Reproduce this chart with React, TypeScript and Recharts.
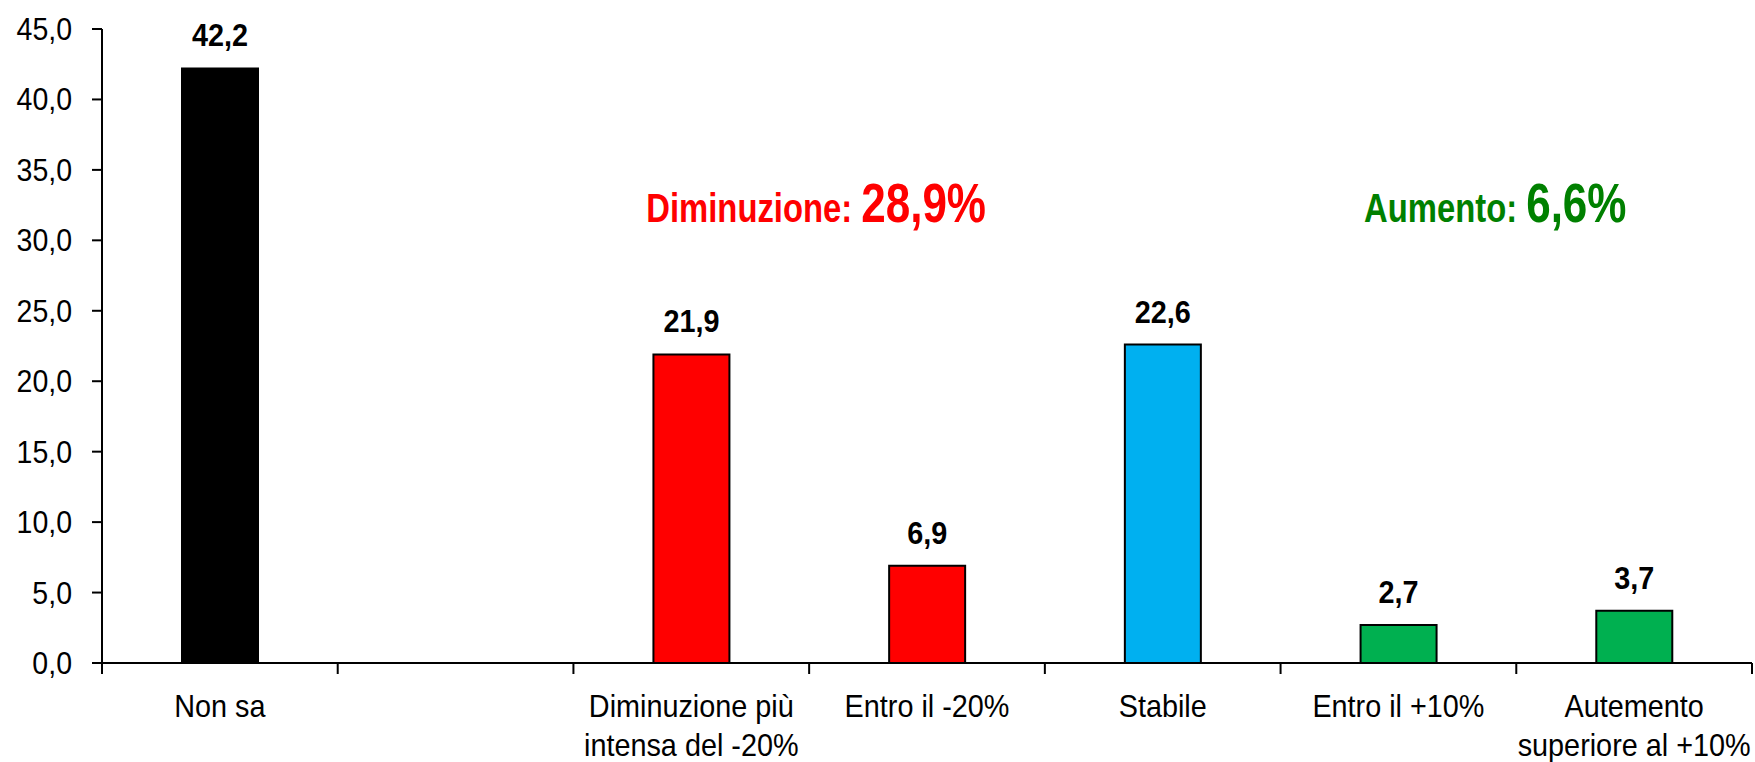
import React from 'react';
import { BarChart, Bar, XAxis, YAxis, Cell, LabelList, ReferenceArea } from 'recharts';

const categories = [
  'Non sa',
  '',
  'Diminuzione più\nintensa del -20%',
  'Entro il -20%',
  'Stabile',
  'Entro il +10%',
  'Autemento\nsuperiore al +10%',
];
const values: (number | null)[] = [42.2, null, 21.9, 6.9, 22.6, 2.7, 3.7];
const barColors = ['#000000', '#ffffff', '#ff0000', '#ff0000', '#00b0f0', '#00b050', '#00b050'];
const yTicks = [0, 5, 10, 15, 20, 25, 30, 35, 40, 45];

const data = categories.map((name, i) => ({ name, value: values[i] }));

// no Arial Narrow here, so text is squeezed horizontally to mimic it
const FONT = '"Liberation Sans", Arial, sans-serif';

const fmt = (v: any) => (v == null || v === '' ? '' : Number(v).toFixed(1).replace('.', ','));

function CategoryTick(props: any) {
  const { x, y, payload, index, visibleTicksCount } = props;
  const half = payload && payload.offset ? payload.offset : 1650 / categories.length / 2;
  const lines = String(payload.value).split('\n');
  const last = index === (visibleTicksCount ?? categories.length) - 1;
  return (
    <g>
      <line x1={x - half} y1={y} x2={x - half} y2={y + 11} stroke="#000" strokeWidth={2} />
      {last && <line x1={x + half} y1={y} x2={x + half} y2={y + 11} stroke="#000" strokeWidth={2} />}
      <text
        transform={`translate(${x},${y + 54}) scale(0.9,1)`}
        textAnchor="middle"
        fill="#000"
        fontSize={32}
        fontFamily={FONT}
      >
        {lines.map((l, i) => (
          <tspan key={i} x={0} dy={i === 0 ? 0 : 39}>
            {l}
          </tspan>
        ))}
      </text>
    </g>
  );
}

function ValueTick(props: any) {
  const { x, y, payload } = props;
  return (
    <text
      transform={`translate(${x},${y + 11}) scale(0.92,1)`}
      textAnchor="end"
      fill="#000"
      fontSize={31}
      fontFamily={FONT}
    >
      {fmt(payload.value)}
    </text>
  );
}

function BarValue(props: any) {
  const { x, y, width, value } = props;
  if (value == null) return null;
  return (
    <text
      transform={`translate(${x + width / 2},${y - 22}) scale(0.9,1)`}
      textAnchor="middle"
      fill="#000"
      fontSize={32}
      fontWeight="bold"
      fontFamily={FONT}
    >
      {fmt(value)}
    </text>
  );
}

function Annotation(props: any) {
  const { viewBox, head, tail, color, dx } = props;
  if (!viewBox) return null;
  const cx = viewBox.x + viewBox.width / 2 + (dx || 0);
  const by = viewBox.y + viewBox.height;
  return (
    <text
      transform={`translate(${cx},${by}) scale(0.8,1)`}
      textAnchor="middle"
      fill={color}
      fontFamily={FONT}
      fontWeight="bold"
    >
      <tspan fontSize={41}>{head}</tspan>
      <tspan fontSize={55}>{tail}</tspan>
    </text>
  );
}

export default function App() {
  return (
    <div style={{ position: 'absolute', left: 0, top: 0, background: '#fff' }}>
      <BarChart
        width={1755}
        height={762}
        data={data}
        margin={{ top: 29, right: 3, bottom: 0, left: 0 }}
        barSize={76}
      >
        <XAxis
          dataKey="name"
          height={99}
          interval={0}
          axisLine={{ stroke: '#000', strokeWidth: 2 }}
          tickLine={false}
          tickSize={0}
          tickMargin={0}
          tick={<CategoryTick />}
        />
        <YAxis
          width={102}
          domain={[0, 45]}
          ticks={yTicks}
          interval={0}
          axisLine={{ stroke: '#000', strokeWidth: 2 }}
          tickLine={{ stroke: '#000', strokeWidth: 2 }}
          tickSize={10}
          tickMargin={20}
          tick={<ValueTick />}
        />
        <ReferenceArea
          x1={categories[2]}
          x2={categories[3]}
          y1={31.3}
          y2={34}
          fill="none"
          stroke="none"
          ifOverflow="visible"
          label={<Annotation head="Diminuzione: " tail="28,9%" color="#ff0000" dx={7} />}
        />
        <ReferenceArea
          x1={categories[5]}
          x2={categories[6]}
          y1={31.3}
          y2={34}
          fill="none"
          stroke="none"
          ifOverflow="visible"
          label={<Annotation head="Aumento: " tail="6,6%" color="#008000" dx={-21} />}
        />
        <Bar dataKey="value" stroke="#000" strokeWidth={2} isAnimationActive={false}>
          {data.map((d, i) => (
            <Cell key={`c-${i}`} fill={barColors[i]} />
          ))}
          <LabelList dataKey="value" content={<BarValue />} />
        </Bar>
      </BarChart>
    </div>
  );
}
